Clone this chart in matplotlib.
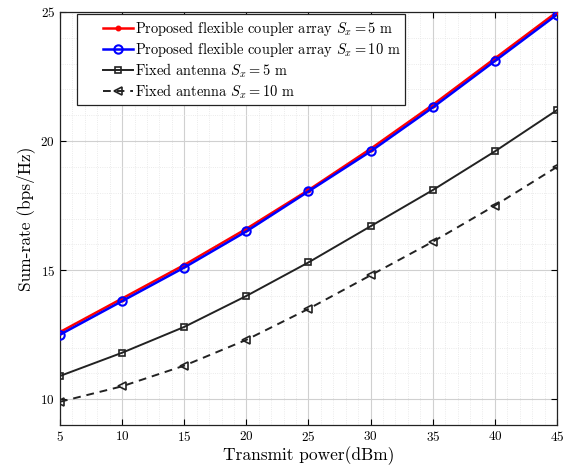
import matplotlib
matplotlib.use("Agg")
import numpy as np
import matplotlib.pyplot as plt
from matplotlib.ticker import MultipleLocator
from matplotlib.legend_handler import HandlerLine2D

plt.rcParams["font.family"] = ["cmr10", "DejaVu Serif"]
plt.rcParams["mathtext.fontset"] = "cm"
plt.rcParams["axes.formatter.use_mathtext"] = True

power = [5, 10, 15, 20, 25, 30, 35, 40, 45]
flex_5m = [12.6, 13.9, 15.2, 16.6, 18.1, 19.7, 21.4, 23.2, 25.0]
flex_10m = [12.5, 13.8, 15.1, 16.5, 18.05, 19.6, 21.3, 23.1, 24.9]
fixed_5m = [10.9, 11.8, 12.8, 14.0, 15.3, 16.7, 18.1, 19.6, 21.2]
fixed_10m = [9.9, 10.5, 11.3, 12.3, 13.5, 14.8, 16.1, 17.5, 19.0]


class InsetLineHandler(HandlerLine2D):
    """Legend handle that leaves blank space on its left, drawing the
    sample line only in the right part of the handle box."""

    def __init__(self, frac=0.42, **kw):
        super().__init__(**kw)
        self.frac = frac

    def get_xdata(self, legend, xdescent, ydescent, width, height, fontsize):
        x0 = -xdescent + self.frac * width
        xdata = np.array([x0, width])
        xmark = np.array([0.5 * (x0 + width)])
        return xdata, xmark


fig = plt.figure(figsize=(5.69, 4.70), dpi=100)
ax = fig.add_axes([0.1054, 0.0957, 0.8735, 0.8788])

l1, = ax.plot(power, flex_5m, color="red", lw=1.8, marker=".", ms=6.5,
              label=r"Proposed flexible coupler array $S_x = 5$ m", zorder=4)
l2, = ax.plot(power, flex_10m, color="blue", lw=1.8, marker="o", ms=6,
              mfc="none", mew=1.5,
              label=r"Proposed flexible coupler array $S_x = 10$ m", zorder=5)
l3, = ax.plot(power, fixed_5m, color="#222222", lw=1.4, marker="s", ms=4.5,
              mfc="none", mew=1.2, label=r"Fixed antenna $S_x = 5$ m", zorder=3)
l4, = ax.plot(power, fixed_10m, color="#222222", lw=1.4, ls=(0, (4, 3)),
              marker="<", ms=6, mfc="none", mew=1.2,
              label=r"Fixed antenna $S_x = 10$ m", zorder=3)

ax.set_xlim(5, 45)
ax.set_ylim(9, 25)
ax.xaxis.set_major_locator(MultipleLocator(5))
ax.yaxis.set_major_locator(MultipleLocator(5))
ax.xaxis.set_minor_locator(MultipleLocator(1))
ax.yaxis.set_minor_locator(MultipleLocator(1))

ax.grid(which="major", color="#d0d0d0", lw=0.8)
ax.grid(which="minor", color="#e4e4e4", lw=0.6, ls=":")
ax.set_axisbelow(True)

ax.tick_params(which="major", direction="in", top=True, right=True,
               length=4, width=0.8, labelsize=9.5)
ax.tick_params(which="minor", length=0)
for s in ax.spines.values():
    s.set_linewidth(0.9)
    s.set_color("#222222")

ax.set_xlabel("Transmit power(dBm)", fontsize=12.5, labelpad=2)
ax.set_ylabel("Sum-rate (bps/Hz)", fontsize=12.5, labelpad=4)

handler = InsetLineHandler(frac=0.42)
leg = ax.legend(handles=[l1, l2, l3, l4],
                handler_map={l1: handler, l2: handler, l3: handler, l4: handler},
                loc="upper left", bbox_to_anchor=(0.034, 0.994), fontsize=10.4,
                frameon=True, fancybox=False, edgecolor="#222222",
                framealpha=1, borderaxespad=0.0, handlelength=3.6,
                handletextpad=0.15, labelspacing=0.16, borderpad=0.3)
leg.get_frame().set_linewidth(0.9)

fig.savefig("out.png", dpi=100)
